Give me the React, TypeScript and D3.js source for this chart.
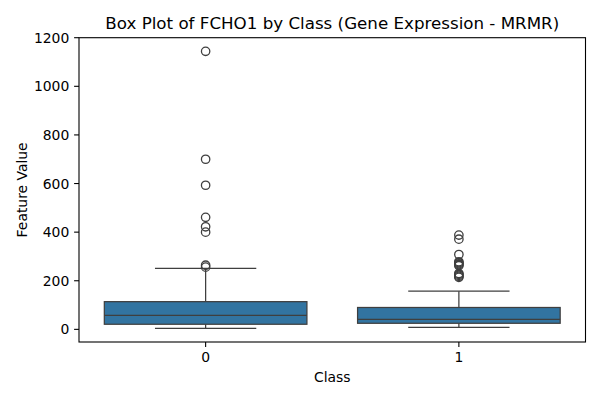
import React from "react";
import * as d3 from "d3";

const categories = ["0", "1"];
const q1 = [21, 25];
const medians = [58, 41];
const q3 = [114, 90];
const whiskerLow = [4, 8];
const whiskerHigh = [251, 157];
const outliers0 = [1144, 700, 593, 461, 422, 400, 264, 256];
const outliers1 = [388, 371, 308, 278, 274, 270, 266, 262, 230, 226, 222, 218, 214];
const outliers = [outliers0, outliers1];
const yTicks = [0, 200, 400, 600, 800, 1000, 1200];

const W = 600;
const H = 400;
const margin = { left: 79, right: 14.5, top: 37.7, bottom: 58 };
const font = "DejaVu Sans, sans-serif";
const boxFill = "#3274a1";
const lineColor = "#3f3f3f";

export default function App() {
  const x = d3
    .scaleBand<string>()
    .domain(categories)
    .range([margin.left, W - margin.right])
    .paddingInner(0)
    .paddingOuter(0);
  const y = d3.scaleLinear().domain([-52, 1200]).range([H - margin.bottom, margin.top]);
  const bw = x.bandwidth();
  const boxW = bw * 0.8;
  const capW = boxW / 2;
  const x0 = margin.left;
  const x1 = W - margin.right;
  const y0 = margin.top;
  const y1 = H - margin.bottom;

  return (
    <svg
      width={W}
      height={H}
      style={{ position: "absolute", left: 0, top: 0, background: "#fff" }}
      fontFamily={font}
    >
      <rect x={0} y={0} width={W} height={H} fill="#fff" />
      {categories.map((c, i) => {
        const cx = (x(c) as number) + bw / 2;
        return (
          <g key={c}>
            <line x1={cx} x2={cx} y1={y(q3[i])} y2={y(whiskerHigh[i])} stroke={lineColor} strokeWidth={1.25} />
            <line x1={cx} x2={cx} y1={y(q1[i])} y2={y(whiskerLow[i])} stroke={lineColor} strokeWidth={1.25} />
            <line x1={cx - capW / 2} x2={cx + capW / 2} y1={y(whiskerHigh[i])} y2={y(whiskerHigh[i])} stroke={lineColor} strokeWidth={1.25} />
            <line x1={cx - capW / 2} x2={cx + capW / 2} y1={y(whiskerLow[i])} y2={y(whiskerLow[i])} stroke={lineColor} strokeWidth={1.25} />
            <rect
              x={cx - boxW / 2}
              y={y(q3[i])}
              width={boxW}
              height={y(q1[i]) - y(q3[i])}
              fill={boxFill}
              stroke={lineColor}
              strokeWidth={1.25}
            />
            <line x1={cx - boxW / 2} x2={cx + boxW / 2} y1={y(medians[i])} y2={y(medians[i])} stroke={lineColor} strokeWidth={1.25} />
            {outliers[i].map((v, j) => (
              <circle key={j} cx={cx} cy={y(v)} r={4.2} fill="none" stroke={lineColor} strokeWidth={1.3} />
            ))}
          </g>
        );
      })}
      {/* spines */}
      <rect x={x0} y={y0} width={x1 - x0} height={y1 - y0} fill="none" stroke="#000" strokeWidth={1.1} />
      {/* y ticks */}
      {yTicks.map((t) => (
        <g key={t}>
          <line x1={x0 - 4.9} x2={x0} y1={y(t)} y2={y(t)} stroke="#000" strokeWidth={1.1} />
          <text x={x0 - 9.7} y={y(t)} dy="0.36em" textAnchor="end" fontSize={13.9} fill="#000">
            {t}
          </text>
        </g>
      ))}
      {/* x ticks */}
      {categories.map((c) => {
        const cx = (x(c) as number) + bw / 2;
        return (
          <g key={c}>
            <line x1={cx} x2={cx} y1={y1} y2={y1 + 4.9} stroke="#000" strokeWidth={1.1} />
            <text x={cx} y={362} textAnchor="middle" fontSize={13.9} fill="#000">
              {c}
            </text>
          </g>
        );
      })}
      <text x={(x0 + x1) / 2} y={382} textAnchor="middle" fontSize={13.9} fill="#000">
        Class
      </text>
      <text
        transform={`translate(26.5, ${(y0 + y1) / 2}) rotate(-90)`}
        textAnchor="middle"
        fontSize={13.9}
        fill="#000"
      >
        Feature Value
      </text>
      <text x={(x0 + x1) / 2} y={29} textAnchor="middle" fontSize={16.7} fill="#000">
        Box Plot of FCHO1 by Class (Gene Expression - MRMR)
      </text>
    </svg>
  );
}
